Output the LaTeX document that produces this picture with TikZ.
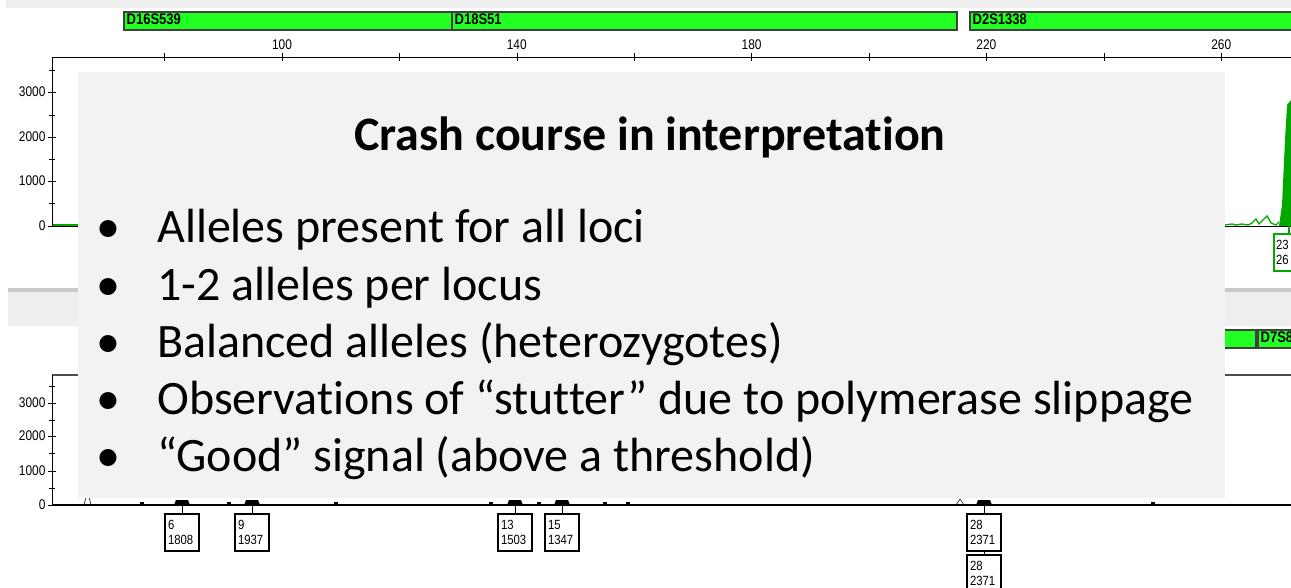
\documentclass[tikz,border=0pt]{standalone}
\usepackage{fontspec}
\usepackage{xcolor}
\setmainfont[Ligatures=NoCommon]{Carlito}
\newfontfamily\axisfont[FakeStretch=0.85]{Liberation Sans}
\newfontfamily\boxfont[FakeStretch=0.85]{Liberation Sans}
\definecolor{locusgreen}{HTML}{22FF22}
\definecolor{peakgreen}{HTML}{00A800}
\definecolor{panelgray}{HTML}{F2F2F2}
\definecolor{bandgray}{HTML}{EEEEEE}
\definecolor{sepgray}{HTML}{C8C8C8}
\tikzset{
  locusbar/.style={draw=black!75,line width=1pt,fill=locusgreen},
  locuslabel/.style={anchor=north west,inner sep=1pt,font=\axisfont\bfseries\fontsize{11.5}{12}\selectfont},
  ticklabel/.style={inner sep=1pt,font=\axisfont\fontsize{10.5}{11}\selectfont},
  allele/.style={draw,line width=1.6pt,anchor=north,align=left,inner sep=1.5pt,
    minimum width=26pt,minimum height=28pt,text width=21pt,
    font=\boxfont\fontsize{10}{11.5}\selectfont},
  bullet/.style={anchor=base west,inner sep=0pt,font=\fontsize{36}{42}\selectfont}
}
\begin{document}
\begin{tikzpicture}[x=0.75pt,y=-0.75pt]
\useasboundingbox (0,0) rectangle (1291,588);
\clip (0,0) rectangle (1291,588);
% top panel
\fill[bandgray] (6,0) rectangle (1291,8);
\draw[locusbar] (124,12) rectangle (452,30);
\draw[locusbar] (452,12) rectangle (957,30);
\draw[locusbar] (970,12) rectangle (1320,30);
\node[locuslabel] (l16) at (125,12) {D16S539};
\node[locuslabel] (l18) at (453,12) {D18S51};
\node[locuslabel] (l2) at (971,12) {D2S1338};
\draw (52,57) -- (1291,57);
\foreach \v in {80,100,...,280}
  \draw (282+5.87*\v-587,53) -- (282+5.87*\v-587,61);
\foreach \v in {100,140,...,260}
  \node[ticklabel,anchor=south] (x\v) at (282+5.87*\v-587,51) {\v};
\draw (52,57) -- (52,226);
\foreach \y/\lab in {92/3000,137/2000,181/1000,226/0}{
  \draw (48,\y) -- (56,\y);
  \node[ticklabel,anchor=east] (ya\lab) at (47,\y) {\lab};
}
\foreach \y in {70,115,159,203}
  \draw (49,\y) -- (55,\y);
\draw (52,226) -- (1291,226);
\draw[peakgreen,line width=1pt] (53,225) -- (80,225);
\draw[peakgreen,line width=1pt] (1225,225) -- (1232,224) -- (1236,225) -- (1242,224)
  -- (1248,225) -- (1252,223) -- (1256,219) -- (1259,224) -- (1263,220) -- (1267,216)
  -- (1271,223) -- (1276,225) -- (1279,222);
\fill[peakgreen] (1279,226) -- (1282,205) -- (1285,140) -- (1287,105) -- (1291,100)
  -- (1291,226) -- cycle;
\coordinate (p23) at (1289,226);
\node[allele,draw=peakgreen,anchor=north west,text width=40pt] (a23) at (1273,233) {23\\26};
\draw[peakgreen,line width=1pt] (p23) -- (p23 |- a23.north);
% separator
\fill[sepgray] (8,288) rectangle (1291,292);
\fill[bandgray] (8,292) rectangle (1291,326);
% bottom panel
\draw[locusbar] (1180,330) rectangle (1256,348);
\draw[locusbar] (1258,330) rectangle (1330,348);
\node[locuslabel] (l7) at (1259,330) {D7S820};
\draw[black!70,line width=1pt] (52,375) -- (1291,375);
\draw (52,375) -- (52,505);
\foreach \y/\lab in {403/3000,436/2000,471/1000,505/0}{
  \draw (48,\y) -- (56,\y);
  \node[ticklabel,anchor=east] (yb\lab) at (47,\y) {\lab};
}
\foreach \y in {386,420,453,488}
  \draw (49,\y) -- (55,\y);
\draw[line width=1.6pt] (52,505) -- (1291,505);
\foreach \x in {142,229,336,491,539,605,628,1153}
  \fill (\x-2,505) rectangle (\x+2,502);
\draw (84,505) -- (86,497) -- (89,497) -- (91,505);
\draw (956,505) -- (960,499) -- (964,505);
\foreach \x/\n/\h in {182/6/1808,252/9/1937,515/13/1503,562/15/1347,984/28/2371}{
  \fill (\x-8,505) -- (\x-6,500) -- (\x+6,500) -- (\x+8,505) -- cycle;
  \coordinate (p\n) at (\x,505);
  \node[allele] (a\n) at (\x,513) {\n\\\h};
  \draw (p\n) -- (a\n.north);
}
\node[allele] (a28b) at ([yshift=-1pt]a28.south) {28\\2371};
\draw (a28.south) -- (a28b.north);
% overlay
\fill[panelgray] (78,72) rectangle (1225,498);
\node[font=\fontsize{36}{42}\selectfont\bfseries,anchor=base] (title) at (650,151)
  {Crash course in interpretation};
\foreach \y/\txt [count=\i] in {242/Alleles present for all loci,
    300/1-2 alleles per locus,
    357/Balanced alleles (heterozygotes),
    414/Observations of “stutter” due to polymerase slippage,
    471/“Good” signal (above a threshold)}{
  \node[bullet] (dot\i) at (96,\y) {•};
  \node[bullet] (item\i) at (157,\y) {\txt};
}
\end{tikzpicture}
\end{document}
